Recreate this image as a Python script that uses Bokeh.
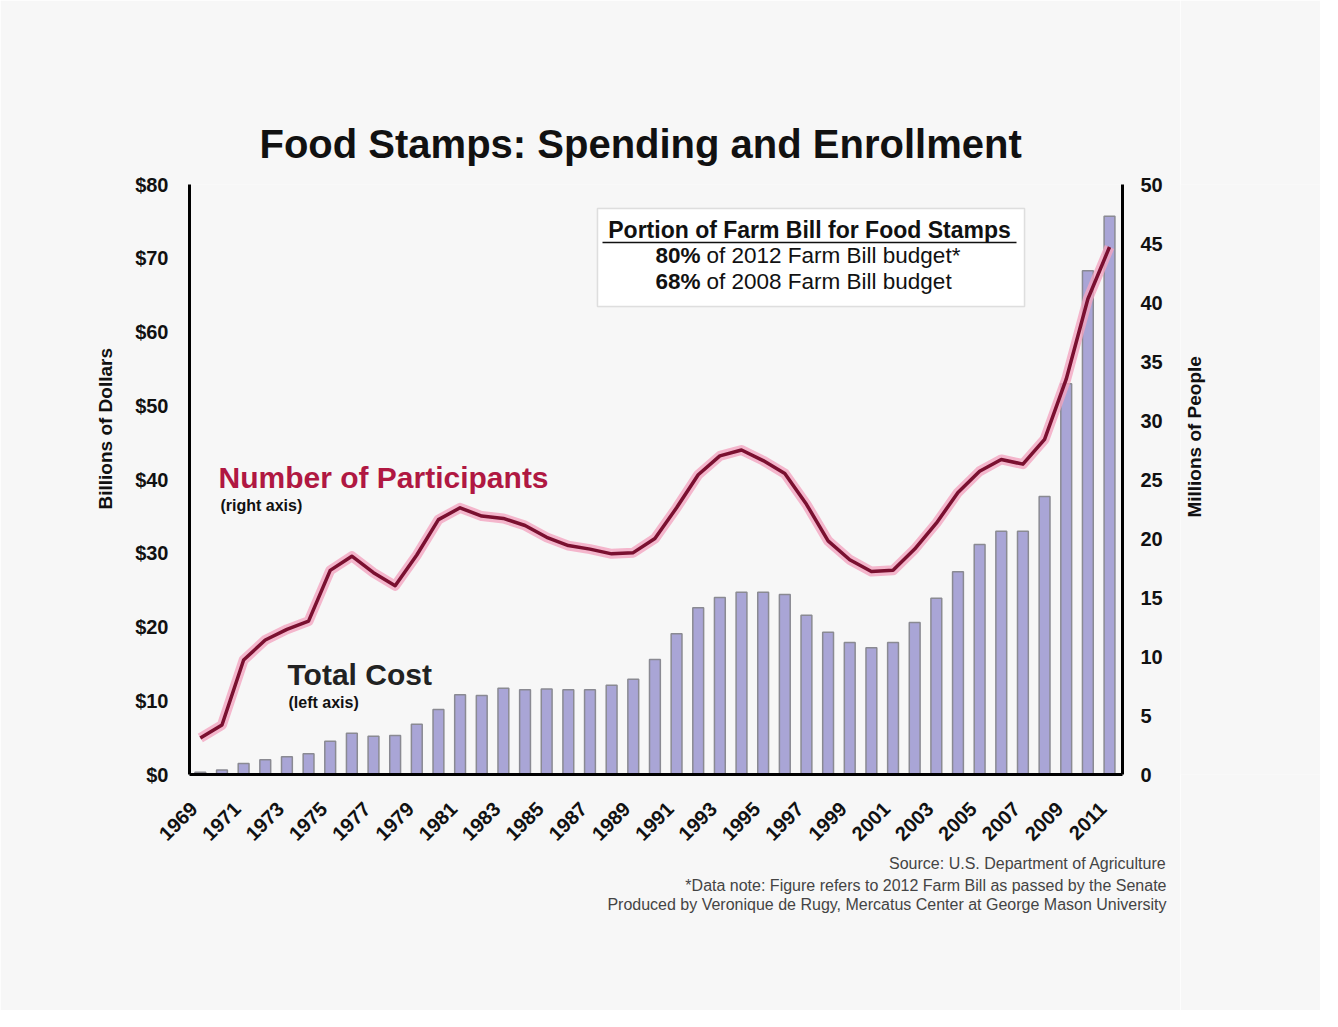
import math
from bokeh.plotting import figure
from bokeh.layouts import row
from bokeh.models import (Range1d, LinearAxis, FixedTicker, PrintfTickFormatter,
                          Label, BoxAnnotation, ColumnDataSource, Title)
from bokeh.embed import file_html
from bokeh.resources import INLINE

# ---------------- data ----------------
years = list(range(1969, 2012))
total_cost = [0.3, 0.6, 1.5, 2.0, 2.4, 2.8, 4.5, 5.6, 5.2, 5.3,
              6.8, 8.8, 10.8, 10.7, 11.7, 11.5, 11.6, 11.5, 11.5, 12.1,
              12.9, 15.6, 19.1, 22.6, 24.0, 24.7, 24.7, 24.4, 21.6, 19.3,
              17.9, 17.2, 17.9, 20.6, 23.9, 27.5, 31.2, 33.0, 33.0, 37.7,
              53.0, 68.3, 75.7]
participants = [3.1, 4.2, 9.7, 11.4, 12.3, 13.0, 17.3, 18.5, 17.1, 16.0,
                18.6, 21.6, 22.6, 21.9, 21.7, 21.1, 20.1, 19.4, 19.1, 18.7,
                18.8, 20.0, 22.6, 25.4, 27.0, 27.5, 26.6, 25.5, 22.9, 19.8,
                18.2, 17.2, 17.3, 19.1, 21.3, 23.9, 25.7, 26.7, 26.3, 28.4,
                33.5, 40.3, 44.7]
x_tick_years = list(range(1969, 2012, 2))
left_ticks = [0, 10, 20, 30, 40, 50, 60, 70, 80]
right_ticks = [0, 5, 10, 15, 20, 25, 30, 35, 40, 45, 50]

title_text = "Food Stamps: Spending and Enrollment"
box_title = "Portion of Farm Bill for Food Stamps"
box_lines = [("80%", "of 2012 Farm Bill budget*"), ("68%", "of 2008 Farm Bill budget")]
source_lines = ["Source: U.S. Department of Agriculture",
                "*Data note: Figure refers to 2012 Farm Bill as passed by the Senate",
                "Produced by Veronique de Rugy, Mercatus Center at George Mason University"]

# ---------------- geometry ----------------
W, H = 1180, 1010          # main figure
W2 = 140                   # narrow strip on the right holding the right-axis title
FL, FR, FT, FB = 197, 1130, 192, 782       # frame edges on the page
X0, X1 = 1968.5, 2011.6
Y1 = 80.0
P1 = 50.0
LABEL_SHIFT = 0.3   # year labels sit slightly left of their bars

def dx(px):
    return X0 + (px - FL) * (X1 - X0) / (FR - FL)

def dy(py):
    return (FB - py) * Y1 / (FB - FT)

BG = "#f7f7f7"
FONT = "Liberation Sans"

p = figure(width=W, height=H, output_backend="svg", toolbar_location=None,
           x_range=Range1d(X0, X1), y_range=Range1d(0, Y1),
           min_border_left=FL - 8, min_border_right=W - (FR - 8),
           min_border_top=FT - 8, min_border_bottom=H - (FB - 8),
           title=title_text)
p.background_fill_color = BG
p.border_fill_color = BG
p.outline_line_color = None
p.grid.visible = False
p.extra_y_ranges = {"ppl": Range1d(0, P1)}

p.title.align = "left"
p.title.offset = 70
p.title.standoff = 38
p.title.text_font = FONT
p.title.text_font_size = "40px"
p.title.text_font_style = "bold"
p.title.text_color = "#111111"

# axes
for ax in p.xaxis + p.yaxis:
    ax.axis_line_color = "black"
    ax.axis_line_width = 3
    ax.major_tick_line_color = None
    ax.minor_tick_line_color = None
    ax.major_label_text_font = FONT
    ax.major_label_text_font_style = "bold"
    ax.major_label_text_color = "#111111"

p.xaxis.ticker = FixedTicker(ticks=[y - LABEL_SHIFT for y in x_tick_years])
p.xaxis.major_label_overrides = {y - LABEL_SHIFT: str(y) for y in x_tick_years}
p.xaxis.major_label_orientation = math.pi / 4
p.xaxis.major_label_text_font_size = "20px"
p.xaxis.major_label_standoff = 25

p.yaxis.ticker = FixedTicker(ticks=left_ticks)
p.yaxis.formatter = PrintfTickFormatter(format="$%d")
p.yaxis.major_label_text_font_size = "20px"
p.yaxis.major_label_standoff = 15

rax = LinearAxis(y_range_name="ppl", ticker=FixedTicker(ticks=right_ticks))
rax.axis_line_color = "black"
rax.axis_line_width = 3
rax.major_tick_line_color = None
rax.minor_tick_line_color = None
rax.major_label_text_font = FONT
rax.major_label_text_font_style = "bold"
rax.major_label_text_font_size = "20px"
rax.major_label_text_color = "#111111"
rax.major_label_standoff = 12
p.add_layout(rax, "right")

# left axis title (side title so it can be shifted along the axis)
p.add_layout(Title(text="Billions of Dollars", align="left", offset=265, standoff=34,
                   text_font=FONT, text_font_size="19px", text_font_style="bold",
                   text_color="#111111"), "left")

# source notes, each line right-aligned
for i, s in enumerate(source_lines):
    p.add_layout(Title(text=s, align="right", offset=-44, standoff=(6 if i == 0 else 0),
                       text_font=FONT, text_font_size="16px", text_font_style="normal",
                       text_color="#444444"), "below")

# bars
src = ColumnDataSource(dict(year=years, cost=total_cost, ppl=participants))
p.vbar(x="year", top="cost", width=0.5, source=src,
       fill_color="#a9a5d6", line_color="#8a8a92", line_width=1.5)

# participants line (right axis)
p.line(x="year", y="ppl", source=src, y_range_name="ppl",
       line_color="#f2a5c0", line_width=10, line_alpha=0.8, line_join="round")
p.line(x="year", y="ppl", source=src, y_range_name="ppl",
       line_color="#7a1030", line_width=3.5, line_join="round")

def lab(text, px, py, size, style="bold", color="#111111", align="left",
        baseline="middle", angle=0.0):
    p.add_layout(Label(x=dx(px), y=dy(py), text=text, text_font=FONT,
                       text_font_size=size, text_font_style=style,
                       text_color=color, text_align=align,
                       text_baseline=baseline, angle=angle))

# info box (added before its texts so it sits beneath them)
p.add_layout(BoxAnnotation(left=dx(605), right=dx(1032), top=dy(216), bottom=dy(314),
                           fill_color="white", fill_alpha=1.0,
                           line_color="#9a9a9a", line_width=1.5))
lab(box_title, 817, 237, "23px", align="center")
p.segment(x0=[dx(610)], y0=[dy(250)], x1=[dx(1024)], y1=[dy(250)],
          line_color="#111111", line_width=1.5, level="overlay")
for i, (bold_part, rest) in enumerate(box_lines):
    yy = 263 + 26 * i
    lab(bold_part, 708, yy, "22.5px", align="right")
    lab(rest, 714, yy, "22.5px", style="normal")

# series annotations
lab("Number of Participants", 226, 485, "30px", color="#b01842")
lab("(right axis)", 228, 513, "16px")
lab("Total Cost", 295, 682, "30px", color="#222222")
lab("(left axis)", 296, 710, "16px")

# ---------------- right strip with the right-axis title ----------------
STRIP_LEFT = 8 + W   # page x of the strip's left edge
p2 = figure(width=W2, height=H, output_backend="svg", toolbar_location=None,
            x_range=Range1d(0, W2), y_range=Range1d(0, H),
            x_axis_location=None, y_axis_location=None, min_border=0)
p2.background_fill_color = BG
p2.border_fill_color = BG
p2.outline_line_color = None
p2.grid.visible = False
p2.add_layout(Label(x=1202 - STRIP_LEFT, y=H - (440 - 8), text="Millions of People",
                    text_font=FONT, text_font_size="19px", text_font_style="bold",
                    text_color="#111111", text_align="center", text_baseline="middle",
                    angle=math.pi / 2))

layout = row(p, p2, spacing=0)
open("out.html", "w").write(file_html(layout, INLINE))
